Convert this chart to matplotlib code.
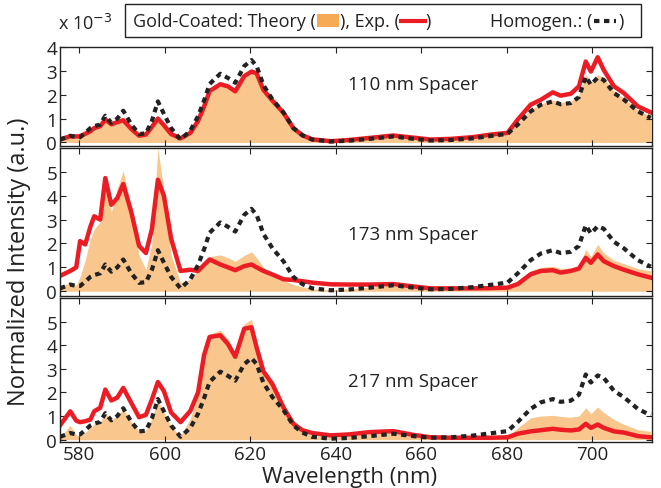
import matplotlib
matplotlib.use("Agg")
import matplotlib.pyplot as plt
from matplotlib.patches import Rectangle
from matplotlib.lines import Line2D

# 数据 (单位 1e-3)
wl = [575.5, 577.9, 579.3, 580.2, 581.4, 582.6, 583.5, 584.9, 586.1, 587.5,
      588.9, 590.3, 592.2, 594.0, 595.6, 597.0, 598.4, 599.8, 601.5, 603.7,
      606.0, 607.8, 609.2, 610.5, 613.0, 614.8, 616.5, 618.6, 620.3, 621.5,
      623.1, 625.2, 627.8, 630.1, 632.2, 634.5, 638.8, 643.0, 648.0, 653.5,
      658.2, 662.2, 667.0, 672.0, 676.3, 680.2, 682.6, 685.6, 688.0, 690.8,
      692.6, 695.0, 696.9, 698.5, 699.7, 701.3, 702.7, 705.1, 707.4, 710.7,
      713.7]

homogen = [0.12, 0.28, 0.22, 0.22, 0.40, 0.60, 0.68, 0.75, 1.12, 0.82,
           1.00, 1.33, 0.75, 0.35, 0.38, 0.90, 1.72, 1.20, 0.60, 0.12,
           0.50, 1.10, 1.75, 2.45, 2.88, 2.70, 2.50, 3.20, 3.45, 3.20,
           2.40, 1.80, 1.25, 0.60, 0.30, 0.12, 0.04, 0.07, 0.15, 0.25,
           0.15, 0.08, 0.10, 0.17, 0.27, 0.36, 0.75, 1.30, 1.58, 1.72,
           1.60, 1.65, 1.90, 2.76, 2.42, 2.72, 2.62, 2.07, 1.80, 1.30,
           1.03]

exp_110 = [0.12, 0.26, 0.25, 0.26, 0.36, 0.47, 0.60, 0.68, 0.96, 0.76,
           0.85, 0.93, 0.56, 0.28, 0.33, 0.65, 1.00, 0.72, 0.35, 0.17,
           0.40, 0.90, 1.50, 2.15, 2.44, 2.35, 2.14, 2.78, 2.97, 2.90,
           2.20, 1.75, 1.24, 0.60, 0.30, 0.13, 0.05, 0.10, 0.19, 0.29,
           0.20, 0.12, 0.15, 0.22, 0.33, 0.40, 0.96, 1.58, 1.79, 2.10,
           1.96, 2.04, 2.35, 3.39, 2.97, 3.57, 3.04, 2.35, 2.07, 1.51,
           1.26]

theory_110 = [0.10, 0.22, 0.22, 0.22, 0.32, 0.45, 0.55, 0.62, 0.90, 0.70,
              0.80, 0.88, 0.50, 0.25, 0.30, 0.60, 0.95, 0.68, 0.30, 0.15,
              0.38, 0.85, 1.45, 2.05, 2.38, 2.30, 2.10, 2.70, 2.90, 2.82,
              2.15, 1.70, 1.20, 0.58, 0.28, 0.12, 0.04, 0.08, 0.16, 0.26,
              0.17, 0.10, 0.12, 0.19, 0.30, 0.37, 0.80, 1.38, 1.62, 1.78,
              1.68, 1.72, 2.00, 2.85, 2.50, 2.85, 2.70, 2.15, 1.85, 1.35,
              1.10]

exp_173 = [0.64, 0.85, 1.00, 2.10, 1.96, 2.70, 3.14, 3.00, 4.74, 3.62,
           3.90, 4.49, 3.30, 1.90, 1.60, 2.60, 4.67, 4.00, 2.20, 0.85,
           0.90, 0.85, 1.10, 1.33, 1.12, 1.00, 0.88, 1.05, 1.12, 1.00,
           0.85, 0.70, 0.50, 0.47, 0.42, 0.36, 0.29, 0.28, 0.28, 0.30,
           0.20, 0.12, 0.12, 0.12, 0.13, 0.15, 0.30, 0.71, 0.85, 0.88,
           0.78, 0.85, 0.95, 1.40, 1.19, 1.54, 1.26, 1.05, 0.90, 0.71,
           0.57]

theory_173 = [0.20, 0.35, 0.25, 0.60, 1.30, 2.20, 2.60, 2.90, 4.50, 3.30,
              4.30, 5.05, 3.40, 1.50, 0.90, 2.00, 6.00, 4.20, 1.50, 0.35,
              0.50, 0.90, 1.20, 1.45, 1.52, 1.40, 1.25, 1.50, 1.65, 1.40,
              1.00, 0.70, 0.45, 0.28, 0.18, 0.10, 0.06, 0.10, 0.18, 0.25,
              0.15, 0.08, 0.08, 0.10, 0.12, 0.18, 0.40, 0.85, 1.00, 1.05,
              0.95, 0.98, 1.05, 1.75, 1.45, 1.96, 1.60, 1.30, 1.15, 0.95,
              0.85]

exp_217 = [0.60, 1.20, 0.80, 0.74, 0.78, 0.85, 1.20, 1.35, 2.12, 1.66,
           1.78, 2.19, 1.55, 0.95, 1.05, 1.70, 2.44, 2.06, 1.15, 0.74,
           1.22, 2.00, 3.58, 4.35, 4.42, 4.05, 3.51, 4.70, 4.76, 3.90,
           2.89, 2.35, 1.36, 0.67, 0.40, 0.28, 0.18, 0.22, 0.32, 0.36,
           0.20, 0.10, 0.08, 0.08, 0.08, 0.10, 0.25, 0.35, 0.40, 0.46,
           0.42, 0.39, 0.43, 0.67, 0.50, 0.64, 0.50, 0.35, 0.30, 0.15,
           0.10]

theory_217 = [0.10, 0.60, 0.20, 0.15, 0.30, 0.50, 0.65, 0.75, 1.10, 0.85,
              1.00, 1.30, 0.75, 0.35, 0.40, 0.90, 1.65, 1.15, 0.55, 0.15,
              0.90, 1.90, 3.60, 4.45, 4.65, 4.25, 3.60, 4.90, 5.10, 4.05,
              3.00, 2.40, 1.30, 0.60, 0.30, 0.18, 0.10, 0.15, 0.25, 0.30,
              0.15, 0.06, 0.05, 0.06, 0.08, 0.15, 0.50, 0.92, 1.00, 1.03,
              0.98, 0.95, 1.00, 1.35, 1.10, 1.38, 1.15, 0.85, 0.65, 0.42,
              0.35]

spacers = ["110 nm Spacer", "173 nm Spacer", "217 nm Spacer"]
exps = [exp_110, exp_173, exp_217]
theories = [theory_110, theory_173, theory_217]
ylims = [(-0.15, 4.0), (-0.2, 6.0), (-0.1, 6.0)]
yticks = [[0, 1, 2, 3, 4], [0, 1, 2, 3, 4, 5], [0, 1, 2, 3, 4, 5]]
xticks = [580, 600, 620, 640, 660, 680, 700]

RED = "#ec1c24"
ORANGE_FILL = "#f9c68e"
ORANGE_PATCH = "#f7aa55"

plt.rcParams["font.family"] = ["Open Sans", "DejaVu Sans"]
plt.rcParams["font.size"] = 13

W, H = 661, 489
fig = plt.figure(figsize=(W / 100, H / 100), dpi=100)

# 面板位置 (像素: 上, 下)
rows = [(48, 147), (149, 297), (299, 443)]
left, right = 60, 652
label_y = [0.626, 0.419, 0.424]

for i, (top, bot) in enumerate(rows):
    ax = fig.add_axes([left / W, 1 - bot / H, (right - left) / W, (bot - top) / H])
    ax.fill_between(wl, 0, theories[i], color=ORANGE_FILL, lw=0, zorder=1)
    ax.plot(wl, exps[i], color=RED, lw=3.2, zorder=2, solid_joinstyle="round")
    ax.plot(wl, homogen, color="#222222", lw=3.0, dashes=(1.3, 1.1), zorder=3)
    ax.set_xlim(575.5, 714)
    ax.set_ylim(*ylims[i])
    ax.set_yticks(yticks[i])
    ax.set_xticks(xticks)
    ax.tick_params(direction="in", length=4, width=0.8, top=True, right=True,
                   labelsize=13.5, pad=2, colors="#222222")
    if i < 2:
        ax.tick_params(labelbottom=False)
    for s in ax.spines.values():
        s.set_linewidth(1.0)
        s.set_color("#222222")
    ax.text(0.486, label_y[i], spacers[i], transform=ax.transAxes,
            va="center", ha="left", fontsize=13.5, color="#222222")

fig.text(58 / W, 1 - 30 / H, r"x 10$^{-3}$", fontsize=13, color="#222222",
         ha="left", va="baseline")
fig.text(19 / W, 1 - 262 / H, "Normalized Intensity (a.u.)", rotation=90,
         ha="center", va="center", fontsize=17, color="#222222")
fig.text(350 / W, 1 - 488 / H, "Wavelength (nm)", ha="center", va="bottom",
         fontsize=16, color="#222222")

# 图例 (手动拼接)
fig.canvas.draw()
r = fig.canvas.get_renderer()
ly = 1 - 22 / H


def put_text(xpx, s):
    t = fig.text(xpx / W, ly, s, fontsize=13, va="center", ha="left", color="#222222")
    bb = t.get_window_extent(r)
    return bb.x1


x = put_text(133, "Gold-Coated: Theory (")
fig.add_artist(Rectangle(((x + 1) / W, ly - 6 / H), 22 / W, 13 / H,
                         transform=fig.transFigure, color=ORANGE_PATCH, lw=0))
x = put_text(x + 24, "), Exp. (")
fig.add_artist(Line2D([(x + 1) / W, (x + 25) / W], [ly, ly], color=RED, lw=3,
                      transform=fig.transFigure))
put_text(x + 26, ")")

x = put_text(490, "Homogen.: (")
fig.add_artist(Line2D([(x + 2) / W, (x + 24) / W], [ly, ly], color="#222222", lw=3,
                      dashes=(1.3, 1.1), transform=fig.transFigure))
put_text(x + 26, ")")

fig.add_artist(Rectangle((125 / W, 1 - 38 / H), 516 / W, 33 / H,
                         transform=fig.transFigure, fill=False, ec="#222222", lw=1))

fig.savefig("out.png", dpi=100)
